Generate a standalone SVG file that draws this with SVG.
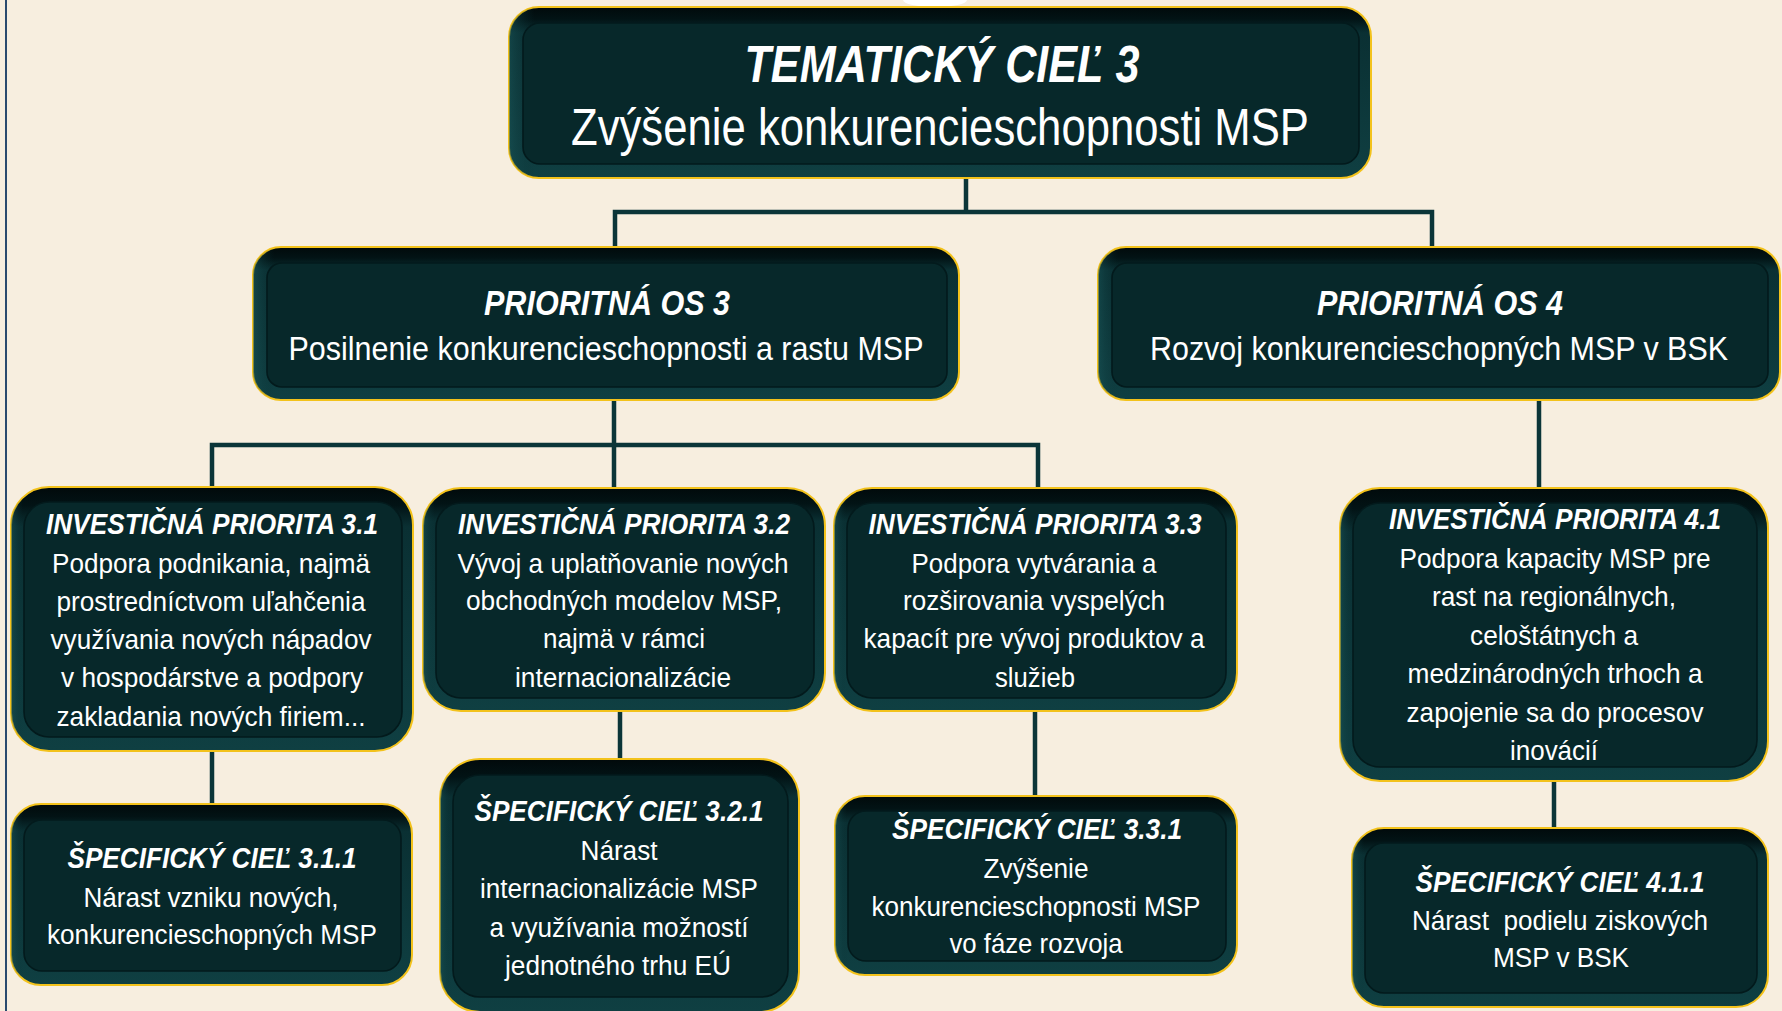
<svg xmlns="http://www.w3.org/2000/svg" width="1782" height="1011" viewBox="0 0 1782 1011">
<defs>
<linearGradient id="gOuter" x1="0" y1="0" x2="0" y2="1">
<stop offset="0" stop-color="#010a0b"/>
<stop offset="0.07" stop-color="#021315"/>
<stop offset="0.15" stop-color="#0a3033"/>
<stop offset="1" stop-color="#0f3f42"/>
</linearGradient>
<linearGradient id="gSide" x1="0" y1="0" x2="1" y2="0">
<stop offset="0" stop-color="#1a5558" stop-opacity="0.55"/>
<stop offset="0.03" stop-color="#0a3033" stop-opacity="0"/>
<stop offset="1" stop-color="#0a3033" stop-opacity="0"/>
</linearGradient>
<linearGradient id="gHl" x1="0" y1="0" x2="0" y2="1">
<stop offset="0" stop-color="#9aa598" stop-opacity="0.2"/>
<stop offset="0.3" stop-color="#9aa598" stop-opacity="0.85"/>
<stop offset="0.8" stop-color="#9aa598" stop-opacity="0.6"/>
<stop offset="1" stop-color="#9aa598" stop-opacity="0"/>
</linearGradient>
</defs>
<style>
.outer{fill:url(#gOuter);stroke:#f3c21b;stroke-width:2}
.side{fill:url(#gSide);stroke:none}
.inner{fill:#07282a;stroke:#031a1c;stroke-width:1.6}
.hl{stroke:url(#gHl);stroke-width:2.5;fill:none;stroke-linecap:round}
.t{fill:#ffffff;font-family:"Liberation Sans Narrow","Liberation Sans",Arial,sans-serif;text-anchor:middle}
.h{font-weight:bold;font-style:italic}
.conn{stroke:#0b3538;stroke-width:4.5;fill:none;stroke-linecap:square}
</style>
<rect x="0" y="0" width="1782" height="1011" fill="#f7eedf"/>
<line x1="6" y1="0" x2="6" y2="1011" stroke="#2a4a6e" stroke-width="2"/>
<ellipse cx="935" cy="0" rx="32" ry="7" fill="#ffffff"/>

<g id="connectors">
<path class="conn" d="M966 178 V212 M615 212 H1432 M615 212 V247 M1432 212 V247"/>
<path class="conn" d="M614 400 V487 M212 445 H1038 M212 445 V487 M1038 445 V488"/>
<path class="conn" d="M1539 400 V488"/>
<path class="conn" d="M212 751 V804"/>
<path class="conn" d="M620 711 V759"/>
<path class="conn" d="M1035 711 V796"/>
<path class="conn" d="M1554 781 V828"/>
</g>

<g id="tc3">
<rect class="outer" x="509" y="7" width="862" height="171" rx="30"/>
<rect class="side" x="509" y="7" width="862" height="171" rx="30"/>
<rect class="inner" x="523" y="23" width="836" height="141" rx="17"/>
<line class="hl" x1="1362" y1="40" x2="1362" y2="150"/>
<text class="t h" x="942" y="82" font-size="52" textLength="395" lengthAdjust="spacingAndGlyphs">TEMATICKÝ CIEĽ 3</text>
<text class="t" x="940" y="145" font-size="51" textLength="738" lengthAdjust="spacingAndGlyphs">Zvýšenie konkurencieschopnosti MSP</text>
</g>

<g id="po3">
<rect class="outer" x="253" y="247" width="706" height="153" rx="28"/>
<rect class="side" x="253" y="247" width="706" height="153" rx="28"/>
<rect class="inner" x="267" y="263" width="680" height="124" rx="15"/>
<line class="hl" x1="950" y1="278" x2="950" y2="375"/>
<text class="t h" x="607" y="315" font-size="35" textLength="246" lengthAdjust="spacingAndGlyphs">PRIORITNÁ OS 3</text>
<text class="t" x="606" y="360" font-size="33.5" textLength="635" lengthAdjust="spacingAndGlyphs">Posilnenie konkurencieschopnosti a rastu MSP</text>
</g>

<g id="po4">
<rect class="outer" x="1098" y="247" width="682" height="153" rx="28"/>
<rect class="side" x="1098" y="247" width="682" height="153" rx="28"/>
<rect class="inner" x="1112" y="263" width="656" height="124" rx="15"/>
<line class="hl" x1="1772" y1="275" x2="1772" y2="380"/>
<text class="t h" x="1440" y="315" font-size="35" textLength="246" lengthAdjust="spacingAndGlyphs">PRIORITNÁ OS 4</text>
<text class="t" x="1439" y="360" font-size="33.5" textLength="578" lengthAdjust="spacingAndGlyphs">Rozvoj konkurencieschopných MSP v BSK</text>
</g>

<g id="ip31">
<rect class="outer" x="11" y="487" width="402" height="264" rx="38"/>
<rect class="side" x="11" y="487" width="402" height="264" rx="38"/>
<rect class="inner" x="24" y="502" width="378" height="235" rx="25"/>
<line class="hl" x1="405" y1="525" x2="405" y2="715"/>
<text class="t h" x="212" y="534" font-size="29" textLength="332" lengthAdjust="spacingAndGlyphs">INVESTIČNÁ PRIORITA 3.1</text>
<text class="t" x="211" y="573" font-size="27.5" textLength="318" lengthAdjust="spacingAndGlyphs">Podpora podnikania, najmä</text>
<text class="t" x="211" y="611" font-size="27.5" textLength="309" lengthAdjust="spacingAndGlyphs">prostredníctvom uľahčenia</text>
<text class="t" x="211" y="649" font-size="27.5" textLength="321" lengthAdjust="spacingAndGlyphs">využívania nových nápadov</text>
<text class="t" x="212" y="687" font-size="27.5" textLength="302" lengthAdjust="spacingAndGlyphs">v hospodárstve a podpory</text>
<text class="t" x="211" y="726" font-size="27.5" textLength="309" lengthAdjust="spacingAndGlyphs">zakladania nových firiem...</text>
</g>

<g id="ip32">
<rect class="outer" x="423" y="488" width="402" height="223" rx="38"/>
<rect class="side" x="423" y="488" width="402" height="223" rx="38"/>
<rect class="inner" x="436" y="503" width="378" height="195" rx="25"/>
<line class="hl" x1="817" y1="525" x2="817" y2="680"/>
<text class="t h" x="624" y="534" font-size="29" textLength="332" lengthAdjust="spacingAndGlyphs">INVESTIČNÁ PRIORITA 3.2</text>
<text class="t" x="623" y="573" font-size="27.5" textLength="331" lengthAdjust="spacingAndGlyphs">Vývoj a uplatňovanie nových</text>
<text class="t" x="624" y="610" font-size="27.5" textLength="316" lengthAdjust="spacingAndGlyphs">obchodných modelov MSP,</text>
<text class="t" x="624" y="648" font-size="27.5" textLength="162" lengthAdjust="spacingAndGlyphs">najmä v rámci</text>
<text class="t" x="623" y="687" font-size="27.5" textLength="216" lengthAdjust="spacingAndGlyphs">internacionalizácie</text>
</g>

<g id="ip33">
<rect class="outer" x="834" y="488" width="403" height="223" rx="38"/>
<rect class="side" x="834" y="488" width="403" height="223" rx="38"/>
<rect class="inner" x="847" y="503" width="379" height="195" rx="25"/>
<line class="hl" x1="1229" y1="525" x2="1229" y2="680"/>
<text class="t h" x="1035" y="534" font-size="29" textLength="333" lengthAdjust="spacingAndGlyphs">INVESTIČNÁ PRIORITA 3.3</text>
<text class="t" x="1034" y="573" font-size="27.5" textLength="245" lengthAdjust="spacingAndGlyphs">Podpora vytvárania a</text>
<text class="t" x="1034" y="610" font-size="27.5" textLength="262" lengthAdjust="spacingAndGlyphs">rozširovania vyspelých</text>
<text class="t" x="1034" y="648" font-size="27.5" textLength="341" lengthAdjust="spacingAndGlyphs">kapacít pre vývoj produktov a</text>
<text class="t" x="1035" y="687" font-size="27.5" textLength="80" lengthAdjust="spacingAndGlyphs">služieb</text>
</g>

<g id="ip41">
<rect class="outer" x="1340" y="488" width="428" height="293" rx="40"/>
<rect class="side" x="1340" y="488" width="428" height="293" rx="40"/>
<rect class="inner" x="1353" y="503" width="404" height="264" rx="27"/>
<line class="hl" x1="1760" y1="525" x2="1760" y2="745"/>
<text class="t h" x="1555" y="529" font-size="29" textLength="332" lengthAdjust="spacingAndGlyphs">INVESTIČNÁ PRIORITA 4.1</text>
<text class="t" x="1555" y="568" font-size="27.5" textLength="311" lengthAdjust="spacingAndGlyphs">Podpora kapacity MSP pre</text>
<text class="t" x="1554" y="606" font-size="27.5" textLength="244" lengthAdjust="spacingAndGlyphs">rast na regionálnych,</text>
<text class="t" x="1554" y="645" font-size="27.5" textLength="168" lengthAdjust="spacingAndGlyphs">celoštátnych a</text>
<text class="t" x="1555" y="683" font-size="27.5" textLength="295" lengthAdjust="spacingAndGlyphs">medzinárodných trhoch a</text>
<text class="t" x="1555" y="722" font-size="27.5" textLength="297" lengthAdjust="spacingAndGlyphs">zapojenie sa do procesov</text>
<text class="t" x="1554" y="760" font-size="27.5" textLength="88" lengthAdjust="spacingAndGlyphs">inovácií</text>
</g>

<g id="sc311">
<rect class="outer" x="11" y="804" width="401" height="181" rx="30"/>
<rect class="side" x="11" y="804" width="401" height="181" rx="30"/>
<rect class="inner" x="24" y="820" width="377" height="151" rx="18"/>
<line class="hl" x1="404" y1="840" x2="404" y2="955"/>
<text class="t h" x="212" y="868" font-size="29" textLength="289" lengthAdjust="spacingAndGlyphs">ŠPECIFICKÝ CIEĽ 3.1.1</text>
<text class="t" x="211" y="907" font-size="27.5" textLength="255" lengthAdjust="spacingAndGlyphs">Nárast vzniku nových,</text>
<text class="t" x="212" y="944" font-size="27.5" textLength="330" lengthAdjust="spacingAndGlyphs">konkurencieschopných MSP</text>
</g>

<g id="sc321">
<rect class="outer" x="440" y="759" width="359" height="253" rx="40"/>
<rect class="side" x="440" y="759" width="359" height="253" rx="40"/>
<rect class="inner" x="453" y="775" width="335" height="222" rx="27"/>
<line class="hl" x1="791" y1="795" x2="791" y2="975"/>
<text class="t h" x="619" y="821" font-size="29" textLength="289" lengthAdjust="spacingAndGlyphs">ŠPECIFICKÝ CIEĽ 3.2.1</text>
<text class="t" x="619" y="860" font-size="27.5" textLength="77" lengthAdjust="spacingAndGlyphs">Nárast</text>
<text class="t" x="619" y="898" font-size="27.5" textLength="278" lengthAdjust="spacingAndGlyphs">internacionalizácie MSP</text>
<text class="t" x="619" y="937" font-size="27.5" textLength="259" lengthAdjust="spacingAndGlyphs">a využívania možností</text>
<text class="t" x="618" y="975" font-size="27.5" textLength="226" lengthAdjust="spacingAndGlyphs">jednotného trhu EÚ</text>
</g>

<g id="sc331">
<rect class="outer" x="835" y="796" width="402" height="179" rx="30"/>
<rect class="side" x="835" y="796" width="402" height="179" rx="30"/>
<rect class="inner" x="848" y="811" width="378" height="150" rx="18"/>
<line class="hl" x1="1229" y1="830" x2="1229" y2="945"/>
<text class="t h" x="1037" y="839" font-size="29" textLength="290" lengthAdjust="spacingAndGlyphs">ŠPECIFICKÝ CIEĽ 3.3.1</text>
<text class="t" x="1036" y="878" font-size="27.5" textLength="105" lengthAdjust="spacingAndGlyphs">Zvýšenie</text>
<text class="t" x="1036" y="916" font-size="27.5" textLength="329" lengthAdjust="spacingAndGlyphs">konkurencieschopnosti MSP</text>
<text class="t" x="1036" y="953" font-size="27.5" textLength="173" lengthAdjust="spacingAndGlyphs">vo fáze rozvoja</text>
</g>

<g id="sc411">
<rect class="outer" x="1352" y="828" width="416" height="179" rx="32"/>
<rect class="side" x="1352" y="828" width="416" height="179" rx="32"/>
<rect class="inner" x="1365" y="843" width="392" height="150" rx="19"/>
<line class="hl" x1="1760" y1="862" x2="1760" y2="975"/>
<text class="t h" x="1560" y="892" font-size="29" textLength="289" lengthAdjust="spacingAndGlyphs">ŠPECIFICKÝ CIEĽ 4.1.1</text>
<text class="t" x="1560" y="930" font-size="27.5" textLength="296" lengthAdjust="spacingAndGlyphs" xml:space="preserve" style="white-space:pre">Nárast  podielu ziskových</text>
<text class="t" x="1561" y="967" font-size="27.5" textLength="136" lengthAdjust="spacingAndGlyphs">MSP v BSK</text>
</g>
</svg>
